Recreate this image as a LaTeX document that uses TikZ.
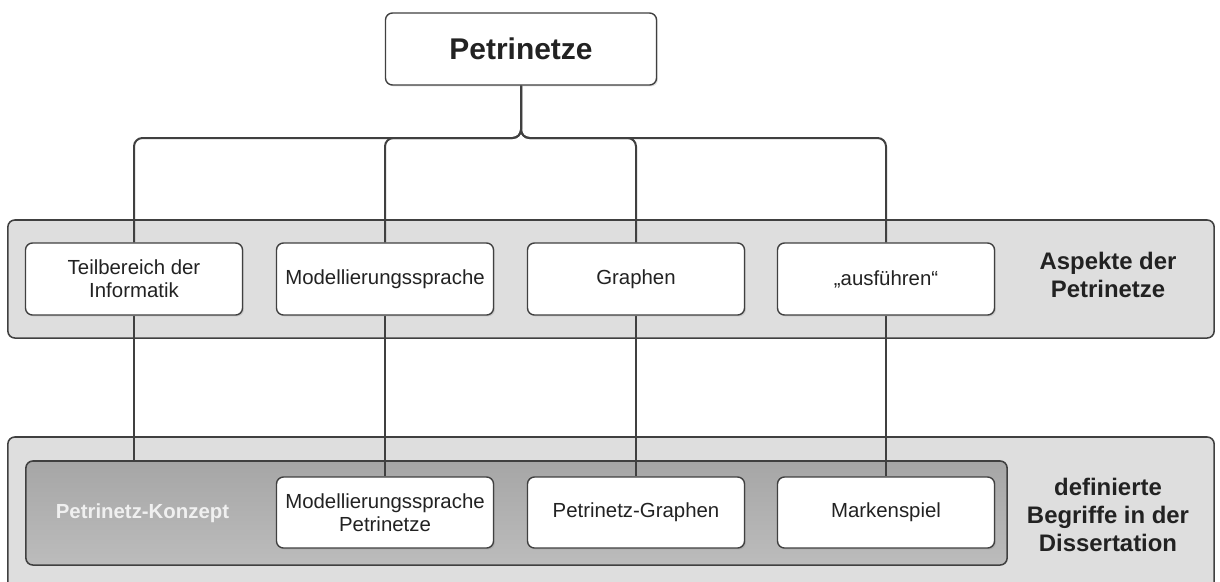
\documentclass[tikz,border=0pt]{standalone}
\usepackage{fontspec}
\setmainfont{Liberation Sans}
\usetikzlibrary{shadows}

\definecolor{linegray}{HTML}{404040}
\definecolor{panelgray}{HTML}{DEDEDE}
\definecolor{darktop}{HTML}{A6A6A6}
\definecolor{darkbot}{HTML}{BCBCBC}
\definecolor{textgray}{HTML}{222222}

\pgfdeclarelayer{panels}
\pgfdeclarelayer{links}
\pgfsetlayers{panels,links,main}

\tikzset{
  box/.style={draw=linegray, fill=white, line width=1pt, rounded corners=5pt,
    minimum width=5.425cm, minimum height=1.8cm, align=center, text=textgray,
    font=\fontsize{14.5}{16.5}\selectfont,
    drop shadow={shadow xshift=1pt, shadow yshift=-1pt, opacity=0.25}},
  panel/.style={draw=linegray, fill=panelgray, line width=1.1pt, rounded corners=5pt},
  caption/.style={align=center, text=textgray, font=\bfseries\fontsize{17}{20}\selectfont},
  link/.style={draw=linegray, line width=0.05cm}
}

\begin{document}
\begin{tikzpicture}[x=0.025cm, y=-0.025cm]
      \useasboundingbox (0,0) rectangle (1220,581);
      \clip (0,0) rectangle (1220,581);
      % panels
      \begin{pgfonlayer}{panels}
      \node[panel, minimum width=30.15cm, minimum height=2.95cm] (aspekte) at (611,279) {};
      \node[panel, minimum width=30.15cm, minimum height=4.5cm] (begriffe) at (611,527) {};
      \node[panel, top color=darktop, bottom color=darkbot, minimum width=24.525cm,
            minimum height=2.6cm] (konzept) at (516.5,513) {};
      \end{pgfonlayer}
      \node[text=white!94!black, font=\bfseries\fontsize{14.5}{16.5}\selectfont] (konzepttext) at (142.5,513) {Petrinetz-Konzept};
      % captions
      \node[caption] (aspektecap) at (1108,275) {Aspekte der\\Petrinetze};
      \node[caption] (begriffecap) at (1108,515) {definierte\\Begriffe in der\\Dissertation};
      % root and boxes
      \coordinate (bar) at (521,138);
      \node[box, minimum width=6.775cm, font=\bfseries\fontsize{21.3}{24}\selectfont] (petri) at (521,49) {Petrinetze};
      \node[box] (a1) at (134,279) {Teilbereich der\\Informatik};
      \node[box] (a2) at (385,279) {Modellierungssprache};
      \node[box] (a3) at (636,279) {Graphen};
      \node[box] (a4) at (886,279) {„ausführen“};
      \node[box, minimum height=1.775cm] (d2) at (385,512.5) {Modellierungssprache\\Petrinetze};
      \node[box, minimum height=1.775cm] (d3) at (636,512.5) {Petrinetz-Graphen};
      \node[box, minimum height=1.775cm] (d4) at (886,512.5) {Markenspiel};
      % connectors
      \begin{pgfonlayer}{links}
      \foreach \a in {a1,a2,a3,a4}
        \draw[link, rounded corners=6pt] (petri.south) |- (\a.north |- bar) -- (\a.north);
      \draw[link] (a1.south) -- (a1.south |- konzept.north);
      \draw[link] (a2.south) -- (d2.north);
      \draw[link] (a3.south) -- (d3.north);
      \draw[link] (a4.south) -- (d4.north);
      \end{pgfonlayer}
\end{tikzpicture}
\end{document}
